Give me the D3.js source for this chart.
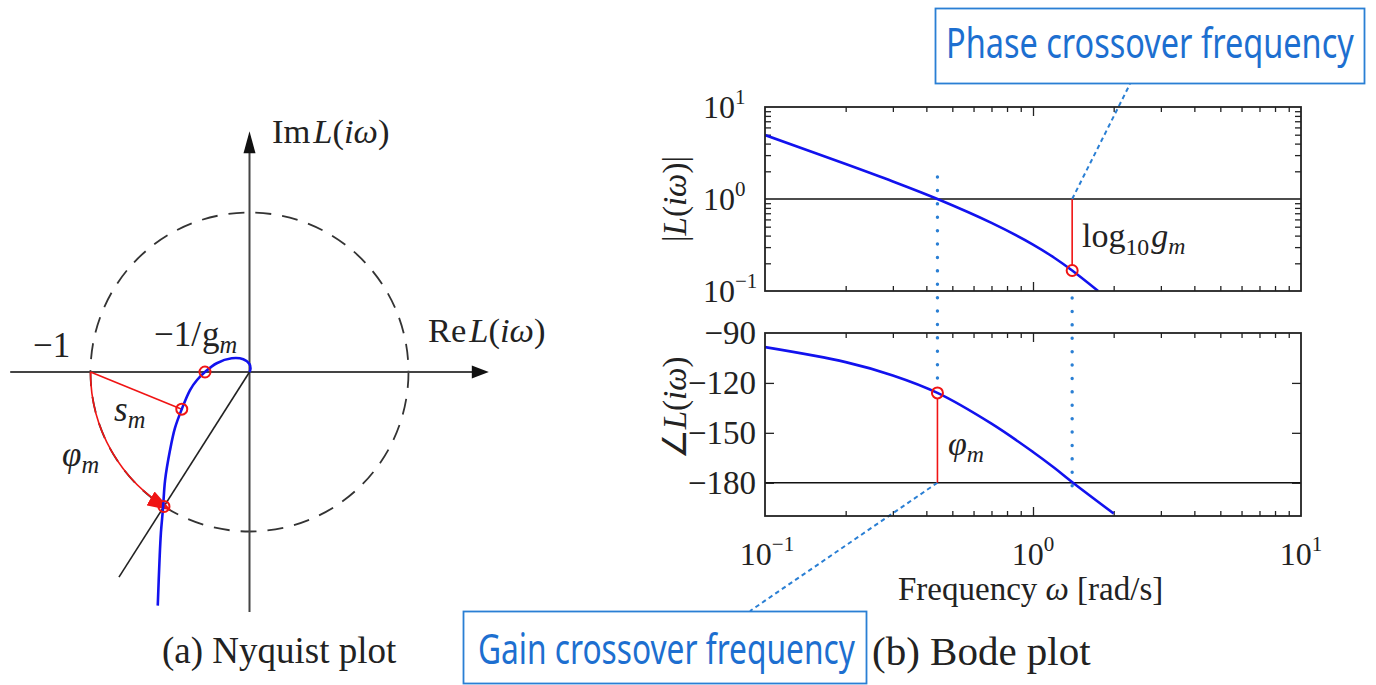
<!DOCTYPE html>
<html>
<head>
<meta charset="utf-8">
<script src="https://cdn.jsdelivr.net/npm/d3@7"></script>
<style>
  body { margin: 0; background: #fff; }
  svg { display: block; }
  text { font-family: "Liberation Serif", "Times New Roman", serif; fill: #222; }
  .note { font-family: "Noto Sans", "Open Sans", sans-serif; fill: #1d6fd0; }
</style>
</head>
<body>
<div class="chart"></div>
<script>
// Nyquist curve of L(iw)
const nyqRe = [-0.577, -0.566, -0.557, -0.544, -0.531, -0.5, -0.469, -0.426, -0.374, -0.33, -0.28, -0.206, -0.112, -0.039, 0, 0.006, 0];
const nyqIm = [-1.465, -1.182, -1.006, -0.855, -0.679, -0.491, -0.352, -0.233, -0.113, -0.05, 0, 0.055, 0.086, 0.08, 0.05, 0.019, 0];
// marked points: -1/gm, stability margin point, phase margin point
const gmPoint = [-0.28, 0];
const smPoint = [-0.426, -0.233];
const pmPoint = [-0.538, -0.843];

// Bode plot
const magFreq = [0.1, 0.2, 0.3, 0.44, 0.7, 1.0, 1.2, 1.4, 1.75];
const magnitude = [4.95, 2.4, 1.55, 1.0, 0.55, 0.32, 0.23, 0.167, 0.1];
const phaseFreq = [0.1, 0.2, 0.3, 0.44, 0.7, 1.0, 1.2, 1.41, 2.0];
const phase = [-98.5, -107.5, -115.5, -126, -144.5, -161.5, -171, -180, -198.5];
const gainCrossover = 0.44, phaseCrossover = 1.4;
const magAtPc = 0.167, phaseAtGc = -126;

const decadeTicks = [0.1, 1, 10];
const decadeExps = ['\u22121', '0', '1'];
const phaseTicks = [-90, -120, -150, -180];

const width = 1376, height = 685;
const blue = '#1212ee', red = '#f01414', noteBlue = '#2a7fd4';

const svg = d3.select('.chart')
    .append('svg')
    .attr('width', width)
    .attr('height', height);

svg.append('rect').attr('width', width).attr('height', height).attr('fill', '#fff');

const defs = svg.append('defs');
defs.append('marker')
    .attr('id', 'redArrow')
    .attr('viewBox', '0 0 24 16')
    .attr('refX', 22).attr('refY', 8)
    .attr('markerWidth', 24).attr('markerHeight', 16)
    .attr('markerUnits', 'userSpaceOnUse')
    .attr('orient', 'auto')
    .append('path')
    .attr('d', 'M0,0 L24,8 L0,16 Z')
    .attr('fill', red);

// ---------------- Nyquist plot ----------------
const nx = d3.scaleLinear().domain([-1, 1]).range([90.5, 408.5]);
const ny = d3.scaleLinear().domain([-1, 1]).range([531.5, 212.5]);
const nyq = svg.append('g').attr('class', 'nyquist');

// unit circle
nyq.append('ellipse')
    .attr('cx', nx(0)).attr('cy', ny(0))
    .attr('rx', nx(1) - nx(0)).attr('ry', ny(0) - ny(1))
    .attr('fill', 'none')
    .attr('stroke', '#333')
    .attr('stroke-width', 1.8)
    .attr('stroke-dasharray', '16,11');

// axes
nyq.append('line')
    .attr('x1', nx(-1.505)).attr('x2', nx(1.42))
    .attr('y1', ny(0)).attr('y2', ny(0))
    .attr('stroke', '#444').attr('stroke-width', 2);
nyq.append('path')
    .attr('d', `M${nx(1.505)},${ny(0)} L${nx(1.505) - 17},${ny(0) - 6.5} L${nx(1.505) - 17},${ny(0) + 6.5} Z`)
    .attr('fill', '#111');
nyq.append('line')
    .attr('x1', nx(0)).attr('x2', nx(0))
    .attr('y1', ny(-1.505)).attr('y2', ny(1.4))
    .attr('stroke', '#444').attr('stroke-width', 2);
nyq.append('path')
    .attr('d', `M${nx(0)},${ny(1.51)} L${nx(0) - 6},${ny(1.51) + 22} L${nx(0) + 6},${ny(1.51) + 22} Z`)
    .attr('fill', '#111');

// line through the phase margin point
const k = 1.526;
nyq.append('line')
    .attr('x1', nx(0)).attr('y1', ny(0))
    .attr('x2', nx(pmPoint[0] * k)).attr('y2', ny(pmPoint[1] * k))
    .attr('stroke', '#222').attr('stroke-width', 1.6);

// stability margin segment
nyq.append('line')
    .attr('x1', nx(-1)).attr('y1', ny(0))
    .attr('x2', nx(smPoint[0])).attr('y2', ny(smPoint[1]))
    .attr('stroke', red).attr('stroke-width', 1.6);

// phase margin arc with arrow
const a1 = Math.atan2(ny(pmPoint[1]) - ny(0), nx(pmPoint[0]) - nx(0));
const arc = d3.path();
arc.arc(nx(0), ny(0), nx(0) - nx(-1), Math.PI, a1 + 2 * Math.PI * (a1 < 0 ? 1 : 0) - 0.04, true);
nyq.append('path')
    .attr('d', arc.toString())
    .attr('fill', 'none')
    .attr('stroke', red).attr('stroke-width', 1.6)
    .attr('marker-end', 'url(#redArrow)');

// the curve
const nyqData = nyqRe.map((re, i) => [re, nyqIm[i]]);
nyq.append('path')
    .datum(nyqData)
    .attr('fill', 'none')
    .attr('stroke', blue)
    .attr('stroke-width', 2.6)
    .attr('d', d3.line().x(d => nx(d[0])).y(d => ny(d[1])).curve(d3.curveCatmullRom));

nyq.selectAll('circle.mark')
    .data([gmPoint, smPoint, pmPoint])
    .join('circle')
    .attr('class', 'mark')
    .attr('cx', d => nx(d[0])).attr('cy', d => ny(d[1]))
    .attr('r', 5.5)
    .attr('fill', 'none').attr('stroke', red).attr('stroke-width', 2);

// Nyquist labels
function mathLabel(g, x, y, parts, size) {
    const t = g.append('text').attr('x', x).attr('y', y).style('font-size', size + 'px');
    parts.forEach(p => {
        const s = t.append('tspan').text(p.t);
        if (p.i) s.style('font-style', 'italic');
        if (p.sub) s.style('font-size', (size * 0.7) + 'px').attr('dy', p.sub);
        if (p.dy) s.attr('dy', p.dy);
        if (p.dx) s.attr('dx', p.dx);
    });
    return t;
}
mathLabel(nyq, 272, 143, [{ t: 'Im' }, { t: 'L', i: 1, dx: 3 }, { t: '(' }, { t: 'i', i: 1 }, { t: '\u03c9', i: 1 }, { t: ')' }], 34.5);
mathLabel(nyq, 428, 342, [{ t: 'Re' }, { t: 'L', i: 1, dx: 3 }, { t: '(' }, { t: 'i', i: 1 }, { t: '\u03c9', i: 1 }, { t: ')' }], 34.5);
mathLabel(nyq, 33, 357, [{ t: '\u22121' }], 35);
mathLabel(nyq, 154, 346, [{ t: '\u22121/' }, { t: 'g', dx: 1 }, { t: 'm', i: 1, sub: 7 }], 35);
mathLabel(nyq, 114, 421, [{ t: 's', i: 1 }, { t: 'm', i: 1, sub: 7 }], 35);
mathLabel(nyq, 62, 466, [{ t: '\u03c6', i: 1 }, { t: 'm', i: 1, sub: 7 }], 35);

svg.append('text').attr('x', 162).attr('y', 663).style('font-size', '37px').text('(a) Nyquist plot');

// ---------------- Bode plot ----------------
const bx = d3.scaleLog().domain([0.1, 10]).range([765, 1301]);
const my = d3.scaleLog().domain([0.1, 10]).range([291, 107]);
const py = d3.scaleLinear().domain([-200, -90]).range([516, 333]);
const bode = svg.append('g').attr('class', 'bode');

const minorX = bx.ticks().filter(v => !decadeTicks.includes(v));
const minorMag = my.ticks().filter(v => !decadeTicks.includes(v));

function ticks(g, axis, pos, values, size) {
    g.append('g')
        .attr('transform', pos)
        .call(axis.tickValues(values).tickSizeInner(-size).tickSizeOuter(0).tickFormat(''))
        .call(a => a.select('.domain').remove())
        .selectAll('line').attr('stroke', '#222').attr('stroke-width', 1.3);
}

// magnitude panel
const magG = bode.append('g');
ticks(magG, d3.axisBottom(bx), `translate(0,${my(0.1)})`, minorX, 5);
ticks(magG, d3.axisBottom(bx), `translate(0,${my(0.1)})`, [1], 9);
ticks(magG, d3.axisTop(bx), `translate(0,${my(10)})`, minorX, 5);
ticks(magG, d3.axisTop(bx), `translate(0,${my(10)})`, [1], 9);
ticks(magG, d3.axisLeft(my), `translate(${bx(0.1)},0)`, minorMag, 6);
ticks(magG, d3.axisRight(my), `translate(${bx(10)},0)`, minorMag, 6);

// phase panel
const phG = bode.append('g');
ticks(phG, d3.axisBottom(bx), `translate(0,${py(-200)})`, minorX, 5);
ticks(phG, d3.axisBottom(bx), `translate(0,${py(-200)})`, [1], 9);
ticks(phG, d3.axisTop(bx), `translate(0,${py(-90)})`, minorX, 5);
ticks(phG, d3.axisTop(bx), `translate(0,${py(-90)})`, [1], 9);
ticks(phG, d3.axisLeft(py), `translate(${bx(0.1)},0)`, phaseTicks.slice(1), 9);
ticks(phG, d3.axisRight(py), `translate(${bx(10)},0)`, phaseTicks.slice(1), 9);

// reference lines
bode.append('line')
    .attr('x1', bx(0.1)).attr('x2', bx(10)).attr('y1', my(1)).attr('y2', my(1))
    .attr('stroke', '#111').attr('stroke-width', 1.6);
bode.append('line')
    .attr('x1', bx(0.1)).attr('x2', bx(10)).attr('y1', py(-180)).attr('y2', py(-180))
    .attr('stroke', '#111').attr('stroke-width', 1.6);

// crossover markers (dotted)
bode.append('line')
    .attr('x1', bx(gainCrossover)).attr('x2', bx(gainCrossover))
    .attr('y1', 177).attr('y2', 381)
    .attr('stroke', noteBlue).attr('stroke-width', 3.4)
    .attr('stroke-linecap', 'round').attr('stroke-dasharray', '0.1,13.3');
bode.append('line')
    .attr('x1', bx(phaseCrossover)).attr('x2', bx(phaseCrossover))
    .attr('y1', 298).attr('y2', 497)
    .attr('stroke', noteBlue).attr('stroke-width', 3.4)
    .attr('stroke-linecap', 'round').attr('stroke-dasharray', '0.1,13.3');

// leader lines to the notes
bode.append('line')
    .attr('x1', bx(phaseCrossover)).attr('y1', my(1))
    .attr('x2', 1130).attr('y2', 84)
    .attr('stroke', noteBlue).attr('stroke-width', 2).attr('stroke-dasharray', '4.5,3.5');
bode.append('line')
    .attr('x1', bx(gainCrossover)).attr('y1', py(-180))
    .attr('x2', 750).attr('y2', 611)
    .attr('stroke', noteBlue).attr('stroke-width', 2).attr('stroke-dasharray', '4.5,3.5');

// margins
bode.append('line')
    .attr('x1', bx(phaseCrossover)).attr('x2', bx(phaseCrossover))
    .attr('y1', my(1)).attr('y2', my(magAtPc) - 5.5)
    .attr('stroke', red).attr('stroke-width', 1.6);
bode.append('line')
    .attr('x1', bx(gainCrossover)).attr('x2', bx(gainCrossover))
    .attr('y1', py(phaseAtGc) + 5.5).attr('y2', py(-180))
    .attr('stroke', red).attr('stroke-width', 1.6);

// curves
bode.append('clipPath').attr('id', 'magClip').append('rect')
    .attr('x', bx(0.1)).attr('y', my(10)).attr('width', bx(10) - bx(0.1)).attr('height', my(0.1) - my(10));
bode.append('clipPath').attr('id', 'phClip').append('rect')
    .attr('x', bx(0.1)).attr('y', py(-90)).attr('width', bx(10) - bx(0.1)).attr('height', py(-200) - py(-90));

bode.append('path')
    .datum(magFreq.map((f, i) => [f, magnitude[i]]))
    .attr('clip-path', 'url(#magClip)')
    .attr('fill', 'none').attr('stroke', blue).attr('stroke-width', 2.6)
    .attr('d', d3.line().x(d => bx(d[0])).y(d => my(d[1])).curve(d3.curveCatmullRom));
bode.append('path')
    .datum(phaseFreq.map((f, i) => [f, phase[i]]))
    .attr('clip-path', 'url(#phClip)')
    .attr('fill', 'none').attr('stroke', blue).attr('stroke-width', 2.6)
    .attr('d', d3.line().x(d => bx(d[0])).y(d => py(d[1])).curve(d3.curveCatmullRom));

bode.append('circle')
    .attr('cx', bx(phaseCrossover)).attr('cy', my(magAtPc)).attr('r', 5.5)
    .attr('fill', 'none').attr('stroke', red).attr('stroke-width', 2);
bode.append('circle')
    .attr('cx', bx(gainCrossover)).attr('cy', py(phaseAtGc)).attr('r', 5.5)
    .attr('fill', 'none').attr('stroke', red).attr('stroke-width', 2);

// panel frames
[[my(10), my(0.1)], [py(-90), py(-200)]].forEach(([y0, y1]) => {
    bode.append('rect')
        .attr('x', bx(0.1)).attr('y', y0)
        .attr('width', bx(10) - bx(0.1)).attr('height', y1 - y0)
        .attr('fill', 'none').attr('stroke', '#222').attr('stroke-width', 1.8);
});

// tick labels
function powLabel(g, x, y, exp, anchor) {
    const t = g.append('text').attr('x', x).attr('y', y).attr('text-anchor', anchor).style('font-size', '32px');
    t.append('tspan').text('10');
    t.append('tspan').attr('dy', -14).style('font-size', '21px').text(exp);
    return t;
}
decadeTicks.forEach((v, i) => powLabel(bode, 703, my(v) + 11, decadeExps[i], 'start'));
decadeTicks.forEach((v, i) => powLabel(bode, bx(v) + (i === 0 ? 2 : 0), 565, decadeExps[i], 'middle'));
phaseTicks.forEach(v => {
    bode.append('text')
        .attr('x', 756).attr('y', py(v) + 11)
        .attr('text-anchor', 'end').style('font-size', '33px')
        .text(String(v).replace('-', '\u2212'));
});

// axis titles
const magTitle = mathLabel(bode, 0, 0, [{ t: '|' }, { t: 'L', i: 1 }, { t: '(' }, { t: 'i', i: 1 }, { t: '\u03c9', i: 1 }, { t: ')|' }], 33);
magTitle.attr('text-anchor', 'middle').attr('transform', `translate(686,${my(1)}) rotate(-90)`);
const phTitle = mathLabel(bode, 0, 0, [{ t: '\u2220' }, { t: 'L', i: 1 }, { t: '(' }, { t: 'i', i: 1 }, { t: '\u03c9', i: 1 }, { t: ')' }], 33);
phTitle.attr('text-anchor', 'middle').attr('transform', `translate(686,${py(-135)}) rotate(-90)`);
mathLabel(bode, 898, 600, [{ t: 'Frequency ' }, { t: '\u03c9', i: 1 }, { t: ' [rad/s]' }], 33);

mathLabel(bode, 1082, 247, [{ t: 'log' }, { t: '10', sub: 8 }, { t: 'g', i: 1, dy: -8, dx: 2 }, { t: 'm', i: 1, sub: 7 }], 34);
mathLabel(bode, 948, 455, [{ t: '\u03c6', i: 1 }, { t: 'm', i: 1, sub: 7 }], 34);

svg.append('text').attr('x', 872).attr('y', 665).style('font-size', '41px').text('(b) Bode plot');

// notes: condensed by horizontal scaling so the text fills its box
function note(x, y, w, text) {
    const t = svg.append('text').attr('class', 'note').style('font-size', '41px').text(text);
    const natural = t.node().getComputedTextLength();
    t.attr('transform', `translate(${x},${y}) scale(${w / natural},1)`);
}
svg.append('rect').attr('x', 935.5).attr('y', 8.5).attr('width', 429).attr('height', 75)
    .attr('fill', '#fff').attr('stroke', noteBlue).attr('stroke-width', 1.8);
note(946, 58, 408, 'Phase crossover frequency');
svg.append('rect').attr('x', 463.5).attr('y', 611.5).attr('width', 403).attr('height', 72)
    .attr('fill', '#fff').attr('stroke', noteBlue).attr('stroke-width', 1.8);
note(478, 664, 377, 'Gain crossover frequency');
</script>
</body>
</html>
